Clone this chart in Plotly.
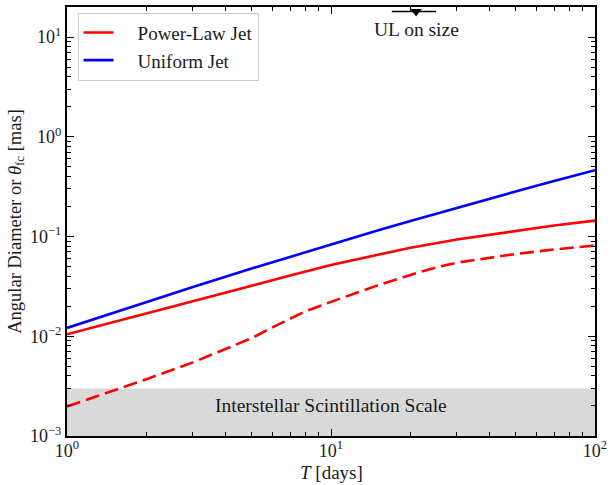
import numpy as np
import plotly.graph_objects as go

# Time in days and angular sizes in mas
t_grid = [1, 2, 3, 5, 7, 10, 15, 20, 30, 50, 70, 100]
d_uniform = [0.01211, 0.02213, 0.03119, 0.04775, 0.06266, 0.08337,
             0.1146, 0.1429, 0.1941, 0.2825, 0.3597, 0.4624]
d_powerlaw = [0.01047, 0.01706, 0.02265, 0.03221, 0.04055, 0.05188,
              0.06607, 0.07727, 0.09333, 0.1135, 0.1288, 0.1445]

t_fc = [1, 1.5, 2, 3, 4, 5, 6, 7, 8, 10, 15, 20, 25, 30, 40, 50, 70, 100]
d_fc = [0.001977, 0.002851, 0.003715, 0.00547, 0.00741, 0.00955, 0.0123,
        0.01514, 0.01778, 0.02213, 0.03236, 0.04121, 0.04898, 0.0547,
        0.06166, 0.06683, 0.07413, 0.08128]

# Scintillation band limits
band_low, band_high = 1e-3, 3e-3
band_label = "Interstellar Scintillation Scale"

# Upper limit on size
ul_t, ul_terr, ul_size = 21.0, 4.0, 18.0
ul_label = "UL on size"

x_ticks = [1, 10, 100]
x_ticktext = ["10<sup>0</sup>", "10<sup>1</sup>", "10<sup>2</sup>"]
y_ticks = [1e-3, 1e-2, 1e-1, 1e0, 1e1]
y_ticktext = ["10<sup>−3</sup>", "10<sup>−2</sup>", "10<sup>−1</sup>",
              "10<sup>0</sup>", "10<sup>1</sup>"]

FONT = "Liberation Serif"
TXT = "#1a1a1a"
PAD = "\u00a0" * 4  # gap between legend line and its label

fig = go.Figure()

fig.add_trace(go.Scatter(
    x=[1, 100, 100, 1], y=[band_low, band_low, band_high, band_high],
    fill="toself", fillcolor="#d9d9d9", line=dict(width=0),
    mode="lines", showlegend=False, hoverinfo="skip"))

fig.add_trace(go.Scatter(
    x=t_grid, y=d_powerlaw, mode="lines", name=PAD + "Power-Law Jet",
    line=dict(color="#ff0000", width=2.6)))
fig.add_trace(go.Scatter(
    x=t_grid, y=d_uniform, mode="lines", name=PAD + "Uniform Jet",
    line=dict(color="#0000ff", width=2.6)))
fig.add_trace(go.Scatter(
    x=t_fc, y=d_fc, mode="lines", showlegend=False,
    line=dict(color="#ff0000", width=2.6, dash="14px,6px")))

fig.add_trace(go.Scatter(
    x=[ul_t], y=[ul_size], mode="markers", showlegend=False,
    marker=dict(symbol="triangle-down", size=10, color="black"),
    error_x=dict(type="data", array=[ul_terr], color="black",
                 thickness=1.5, width=0)))

fig.add_annotation(x=np.log10(10), y=np.log10(0.002), text=band_label,
                   showarrow=False, font=dict(family=FONT, size=19.5, color=TXT))
fig.add_annotation(x=np.log10(ul_t), y=np.log10(12.0), text=ul_label,
                   showarrow=False, font=dict(family=FONT, size=19.5, color=TXT))

# x-axis title placed under the tick labels
fig.add_annotation(xref="paper", yref="paper", x=0.5, y=-0.084,
                   text="<i>T</i> [days]", showarrow=False,
                   xanchor="center", yanchor="middle",
                   font=dict(family=FONT, size=19, color=TXT))

minor_vals = [m * 10.0 ** e for e in range(-3, 2) for m in range(2, 10)]

axis_common = dict(
    type="log", showgrid=False, zeroline=False,
    showline=True, linecolor="black", linewidth=2, mirror="allticks",
    ticks="inside", ticklen=7, tickwidth=1.3, tickcolor="black",
    tickfont=dict(family=FONT, size=18, color=TXT),
    minor=dict(ticks="inside", ticklen=4, tickwidth=1.1, tickcolor="black",
               tickmode="array", tickvals=minor_vals, showgrid=False),
)

fig.update_xaxes(**axis_common, range=[0, 2], tickmode="array",
                 tickvals=x_ticks, ticktext=x_ticktext, ticklabelstandoff=-3)
fig.update_yaxes(**axis_common, range=[-3, np.log10(20)], tickmode="array",
                 tickvals=y_ticks, ticktext=y_ticktext,
                 title=dict(text="Angular Diameter or <i>θ</i><sub>fc</sub> [mas]",
                            font=dict(family=FONT, size=18.5, color=TXT),
                            standoff=4))

fig.update_layout(
    width=612, height=485,
    margin=dict(l=67, r=14, t=5, b=49),
    plot_bgcolor="white", paper_bgcolor="white",
    legend=dict(x=0.02, y=0.987, xanchor="left", yanchor="top",
                bgcolor="white", bordercolor="#cccccc", borderwidth=1,
                font=dict(family=FONT, size=19, color=TXT),
                tracegroupgap=0),
)

fig.write_html("out.html")
